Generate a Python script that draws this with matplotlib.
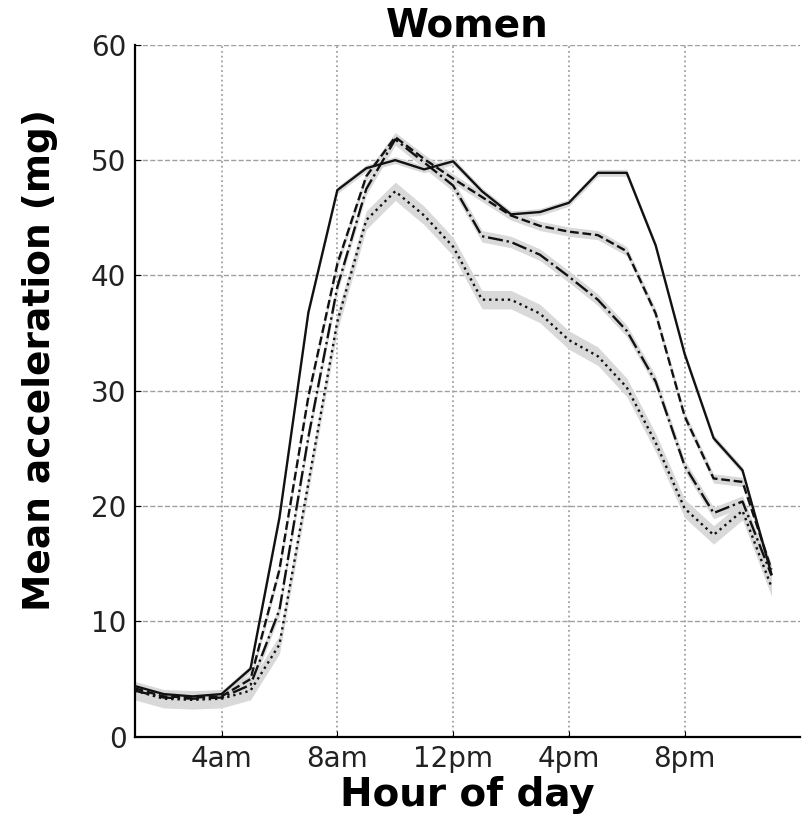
import matplotlib
matplotlib.use("Agg")
import matplotlib.pyplot as plt
import numpy as np

# hour of day (1..23) and mean acceleration (mg) for four groups
hours = list(range(1, 24))
tick_hours = [4, 8, 12, 16, 20]
tick_labels = ["4am", "8am", "12pm", "4pm", "8pm"]

solid = [4.4, 3.7, 3.5, 3.7, 5.9, 19.0, 36.8, 47.4, 49.3, 50.0, 49.2, 49.9,
         47.3, 45.3, 45.5, 46.3, 48.9, 48.9, 42.6, 33.2, 25.9, 23.1, 14.1]
dashed = [4.2, 3.5, 3.4, 3.5, 5.0, 14.5, 29.5, 41.0, 48.6, 52.0, 50.1, 48.4,
          46.8, 45.2, 44.3, 43.8, 43.5, 42.1, 36.7, 27.8, 22.4, 22.1, 14.5]
dashdot = [4.0, 3.4, 3.3, 3.4, 4.5, 11.0, 26.0, 39.0, 47.5, 51.8, 49.8, 47.8,
           43.4, 42.9, 41.8, 39.9, 37.9, 35.2, 30.8, 23.5, 19.4, 20.4, 14.0]
dotted = [4.0, 3.3, 3.2, 3.3, 4.0, 8.0, 22.0, 36.0, 44.8, 47.3, 45.2, 42.5,
          37.9, 37.9, 36.7, 34.4, 33.0, 30.3, 25.5, 19.8, 17.5, 19.6, 13.0]
series = [solid, dashed, dashdot, dotted]
styles = ["-", "--", "-.", ":"]
ci_halfwidth = [0.3, 0.4, 0.5, 0.8]

fig = plt.figure(figsize=(8.02, 8.15), dpi=100)
ax = fig.add_axes([0.168, 0.096, 0.83, 0.849])

x = np.array(hours)
for vals, ls, hw in zip(series, styles, ci_halfwidth):
    y = np.array(vals)
    ax.fill_between(x, y - hw, y + hw, color="#d9d9d9", lw=0, zorder=2)
    ax.plot(x, y, ls=ls, color="#111111", lw=1.7, zorder=3)

ax.set_xlim(1, 24)
ax.set_ylim(0, 60)
ax.set_xticks(tick_hours)
ax.set_xticklabels(tick_labels)
ax.set_yticks(range(0, 61, 10))

ax.grid(axis="y", ls="--", color="#a0a0a0", lw=1.0, zorder=0)
ax.grid(axis="x", ls=":", color="#a0a0a0", lw=1.3, zorder=0)

for side in ("top", "right"):
    ax.spines[side].set_visible(False)
for side in ("left", "bottom"):
    ax.spines[side].set_linewidth(1.6)
ax.tick_params(direction="in", length=4, labelsize=20, colors="black",
               top=False, right=False, pad=6)
for lbl in ax.get_xticklabels() + ax.get_yticklabels():
    lbl.set_color("#222222")

ax.set_title("Women", fontsize=28, fontweight="bold", pad=4)
ax.set_xlabel("Hour of day", fontsize=28, fontweight="bold", labelpad=2)
ax.set_ylabel("Mean acceleration (mg)", fontsize=27, fontweight="bold")
# reference label sits a bit above the axes centre
ax.yaxis.set_label_coords(-0.115, 0.545)

fig.savefig("out.png", dpi=100)
